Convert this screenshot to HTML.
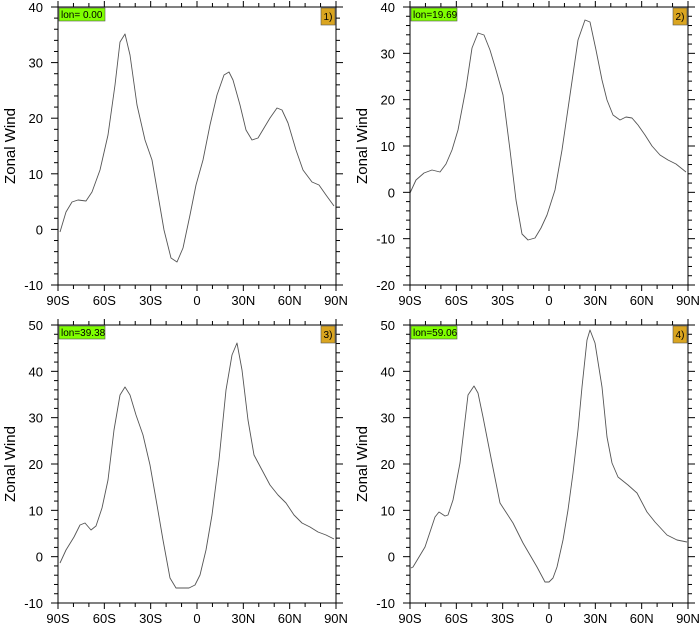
<!DOCTYPE html>
<html><head><meta charset="utf-8"><style>body{margin:0;background:#fff}svg{display:block}</style></head>
<body><svg id="s" width="700" height="629" xmlns="http://www.w3.org/2000/svg" font-family="Liberation Sans, sans-serif"></svg>
<script>
const S=document.getElementById('s');let h='';
const panels=[
{x:58,y:7,ymin:-10,ymax:40,lab:'lon= 0.00',n:'1)',pts:[[60,232],[66,212],[72,202],[78,200],[86,201],[92,192],[100,170],[108,135],[115,85],[120,42],[125,34],[130,55],[137,105],[145,140],[152,160],[158,195],[164,230],[171,258],[177,262],[183,248],[190,215],[196,185],[203,160],[210,125],[217,95],[224,75],[229,72],[233,80],[240,105],[246,130],[252,140],[258,138],[264,128],[270,118],[277,108],[282,110],[288,123],[296,150],[303,170],[312,182],[319,185],[326,195],[334,206]]},
{x:410,y:7,ymin:-20,ymax:40,lab:'lon=19.69',n:'2)',pts:[[410,193],[416,180],[424,173],[432,170],[440,172],[446,164],[452,150],[458,130],[466,88],[472,48],[478,33],[484,35],[490,50],[496,70],[503,95],[510,150],[516,200],[522,234],[528,240],[535,238],[541,228],[547,215],[555,190],[562,150],[570,95],[578,40],[585,20],[590,22],[596,50],[602,80],[607,100],[613,115],[620,120],[626,117],[632,118],[638,125],[645,135],[652,146],[660,155],[668,160],[676,164],[686,172]]},
{x:58,y:325,ymin:-10,ymax:50,lab:'lon=39.38',n:'3)',pts:[[60,563],[66,550],[74,537],[80,525],[85,523],[91,530],[96,526],[102,508],[108,480],[114,430],[120,395],[125,387],[130,395],[136,415],[143,435],[150,465],[157,505],[163,540],[170,578],[176,588],[182,588],[189,588],[195,585],[200,575],[206,550],[212,515],[219,460],[226,390],[232,355],[237,343],[242,370],[248,420],[254,455],[262,470],[270,485],[278,495],[286,503],[294,515],[302,523],[310,527],[318,532],[326,535],[334,539]]},
{x:410,y:325,ymin:-10,ymax:50,lab:'lon=59.06',n:'4)',pts:[[411,568],[413,567],[425,547],[435,517],[439,512],[445,516],[448,515],[453,500],[460,463],[468,395],[474,386],[478,393],[483,417],[492,463],[500,503],[513,523],[523,543],[537,567],[545,582],[549,582],[553,578],[557,567],[563,540],[568,510],[573,473],[578,430],[582,387],[587,340],[590,330],[595,343],[602,387],[607,437],[612,463],[618,477],[628,485],[637,493],[647,512],[655,522],[667,535],[677,540],[687,542]]}];
const W=278,H=278,xl=['90S','60S','30S','0','30N','60N','90N'];
for(const p of panels){
 const X=p.x,Y=p.y;
 h+=`<polyline fill="none" stroke="#555" stroke-width="0.9" stroke-linejoin="round" points="${p.pts.map(a=>a.join(',')).join(' ')}"/>`;
 h+=`<rect x="${X}" y="${Y}" width="${W}" height="${H}" fill="none" stroke="#000" stroke-width="1"/>`;
 for(let i=0;i<=18;i++){const x=X+i*W/18,L=i%3==0?6:4;
  h+=`<line x1="${x}" y1="${Y+H}" x2="${x}" y2="${Y+H+L}" stroke="#000"/><line x1="${x}" y1="${Y}" x2="${x}" y2="${Y-L}" stroke="#000"/>`;
  if(i%3==0)h+=`<text x="${x}" y="${Y+H+20}" font-size="13" text-anchor="middle">${xl[i/3]}</text>`;}
 const r=p.ymax-p.ymin;
 for(let v=p.ymin;v<=p.ymax;v+=2){const y=Y+H-(v-p.ymin)/r*H,L=v%10==0?7:4;
  h+=`<line x1="${X}" y1="${y}" x2="${X-L}" y2="${y}" stroke="#000"/><line x1="${X+W}" y1="${y}" x2="${X+W+L}" y2="${y}" stroke="#000"/>`;
  if(v%10==0)h+=`<text x="${X-15}" y="${y+5}" font-size="13" text-anchor="end">${v}</text>`;}
 h+=`<text transform="translate(${X-43},${Y+H/2}) rotate(-90)" font-size="15" text-anchor="middle">Zonal Wind</text>`;
 h+=`<rect x="${X+1}" y="${Y+1}" width="46" height="13" fill="#7fff00" stroke="#555" stroke-width="0.6"/><text x="${X+3}" y="${Y+11}" font-size="10">${p.lab}</text>`;
 h+=`<rect x="${X+W-15}" y="${Y+1}" width="14" height="17" fill="#daa520" stroke="#555" stroke-width="0.6"/><text x="${X+W-8}" y="${Y+13}" font-size="10" text-anchor="middle">${p.n}</text>`;
}
S.innerHTML=h;
</script></body></html>
